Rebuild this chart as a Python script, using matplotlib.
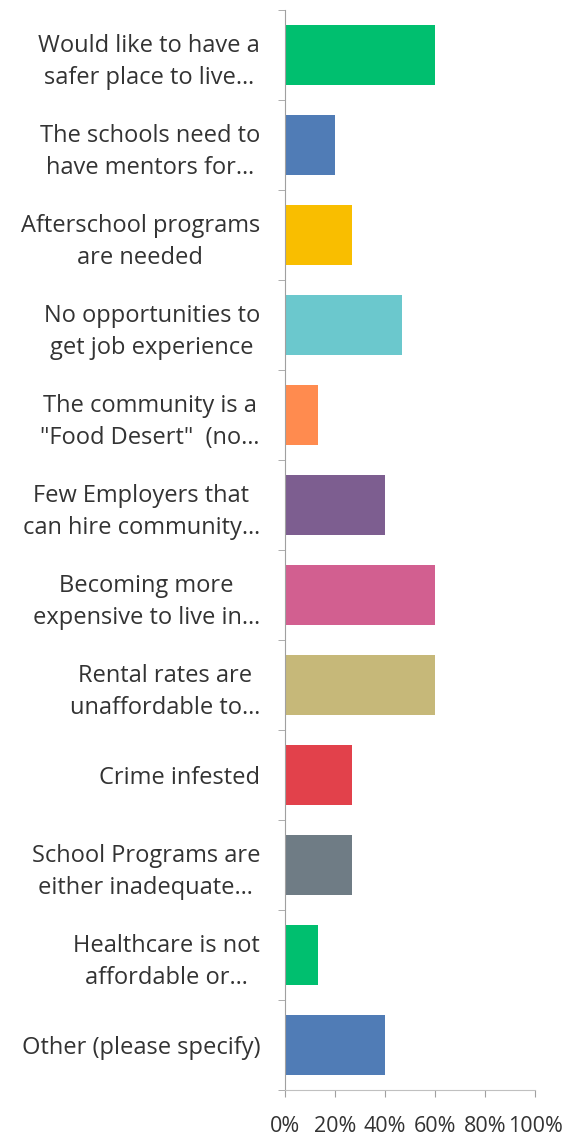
import numpy as np
import matplotlib
matplotlib.use("Agg")
import matplotlib.pyplot as plt

labels = [
    "Would like to have a\nsafer place to live\u2026",
    "The schools need to\nhave mentors for\u2026",
    "Afterschool programs\nare needed",
    "No opportunities to\nget job experience",
    "The community is a\n\"Food Desert\"  (no\u2026",
    "Few Employers that\ncan hire community\u2026",
    "Becoming more\nexpensive to live in\u2026",
    "Rental rates are\nunaffordable to\u2026",
    "Crime infested",
    "School Programs are\neither inadequate\u2026",
    "Healthcare is not\naffordable or\u2026",
    "Other (please specify)",
]
values = [0.60, 0.20, 0.267, 0.467, 0.133, 0.40, 0.60, 0.60, 0.267, 0.267, 0.133, 0.40]
colors = ["#00BF6F", "#507CB6", "#F9BE00", "#6BC8CD", "#FF8B4F", "#7D5E90",
          "#D25F90", "#C6B879", "#E2414B", "#6F7C85", "#00BF6F", "#507CB6"]
xticks = [0, 0.2, 0.4, 0.6, 0.8, 1.0]
xticklabels = ["0%", "20%", "40%", "60%", "80%", "100%"]

plt.rcParams['font.family'] = ['Open Sans', 'DejaVu Sans']

fig = plt.figure(figsize=(5.73, 11.36), dpi=100)
ax = fig.add_axes([285 / 573, 1 - 1090 / 1136, 250 / 573, 1080 / 1136])

y = np.arange(len(labels))
ax.barh(y, values, height=0.66, color=colors)
ax.set_ylim(len(labels) - 0.5, -0.5)
ax.set_xlim(0, 1)

ax.set_yticks(y)
ax.set_yticklabels(labels, fontsize=17, color="#333333", multialignment="center")
for t in ax.get_yticklabels():
    t.set_linespacing(1.45)
ax.set_yticks(np.arange(-0.5, len(labels) + 0.5, 1), minor=True)
ax.tick_params(axis="y", which="major", length=0, pad=18)
ax.tick_params(axis="y", which="minor", length=5, color="#A0A0A0")

ax.set_xticks(xticks)
ax.set_xticklabels(xticklabels, fontsize=15.5, color="#333333")
ax.tick_params(axis="x", length=5, color="#A0A0A0", pad=14)

for s in ["top", "right"]:
    ax.spines[s].set_visible(False)
ax.spines["left"].set_color("#A0A0A0")
ax.spines["bottom"].set_color("#C0C0C0")

fig.savefig("out.png", dpi=100)
